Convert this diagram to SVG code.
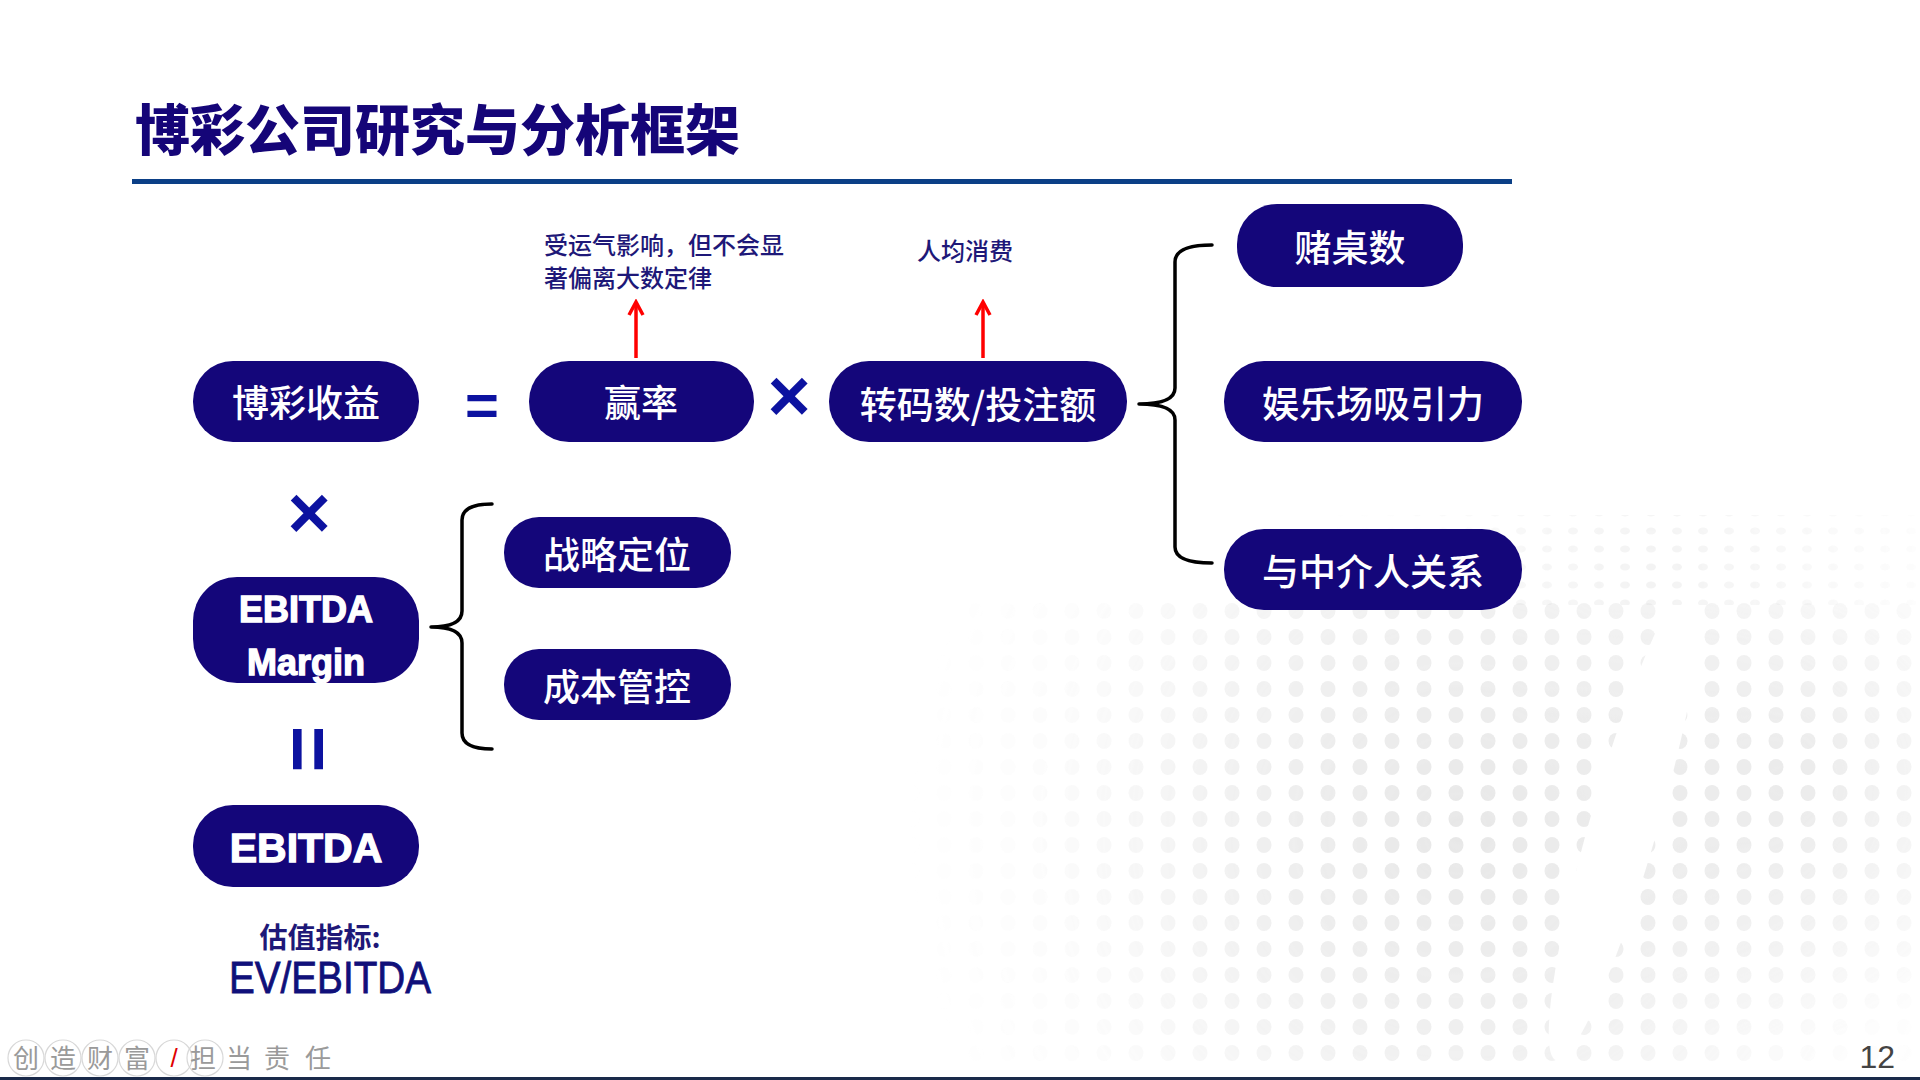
<svg xmlns="http://www.w3.org/2000/svg" width="1920" height="1080" viewBox="0 0 1920 1080">
<style>
.node rect{fill:#14067a;}
.nt{fill:#ffffff;font-family:"Noto Sans CJK SC","Liberation Sans",sans-serif;font-size:37px;font-weight:500;text-anchor:middle;dominant-baseline:central;}
.lt{fill:#ffffff;stroke:#ffffff;stroke-width:1.3px;font-family:"Liberation Sans",Arial,sans-serif;font-weight:bold;text-anchor:middle;dominant-baseline:central;}
.ann{fill:#1e1878;font-family:"Noto Sans CJK SC","Liberation Sans",sans-serif;font-size:24px;font-weight:500;}
.op{fill:#0c12a0;font-family:"Liberation Sans",Arial,sans-serif;font-weight:bold;text-anchor:middle;dominant-baseline:central;}
.brace{fill:none;stroke:#000;stroke-width:3.5;stroke-linecap:round;stroke-linejoin:round;}
.arrow{fill:none;stroke:#ff0000;stroke-width:3.5;}
.foot{fill:#9a9a9a;font-family:"Noto Sans CJK SC","Liberation Sans",sans-serif;font-size:26px;}
</style>
<defs>
<marker id="ah" viewBox="0 0 20 20" refX="17" refY="10" markerWidth="20" markerHeight="20" markerUnits="userSpaceOnUse" orient="auto">
<path d="M4,3 L17,10 L4,17" fill="none" stroke="#ff0000" stroke-width="3.5" stroke-linejoin="miter"/>
</marker>
<pattern id="dots" x="0" y="0" width="32" height="26" patternUnits="userSpaceOnUse">
<ellipse cx="16" cy="13" rx="7.5" ry="8" fill="#dcdcdc"/>
</pattern>
<pattern id="dotsS" x="0" y="0" width="26" height="18" patternUnits="userSpaceOnUse">
<ellipse cx="13" cy="9" rx="5" ry="3.5" fill="#dcdcdc"/>
</pattern>
<radialGradient id="g1" cx="1460" cy="830" r="560" gradientUnits="userSpaceOnUse">
<stop offset="0" stop-color="#fff" stop-opacity="0.95"/>
<stop offset="0.35" stop-color="#fff" stop-opacity="0.65"/>
<stop offset="0.75" stop-color="#fff" stop-opacity="0.12"/>
<stop offset="1" stop-color="#fff" stop-opacity="0"/>
</radialGradient>
<radialGradient id="g2" cx="1790" cy="780" r="260" gradientUnits="userSpaceOnUse">
<stop offset="0" stop-color="#fff" stop-opacity="0.75"/>
<stop offset="1" stop-color="#fff" stop-opacity="0"/>
</radialGradient>
<radialGradient id="g3" cx="1650" cy="580" r="330" gradientUnits="userSpaceOnUse">
<stop offset="0" stop-color="#fff" stop-opacity="0.5"/>
<stop offset="1" stop-color="#fff" stop-opacity="0"/>
</radialGradient>
<mask id="dm" maskUnits="userSpaceOnUse" x="0" y="0" width="1920" height="1080">
<rect x="0" y="600" width="1920" height="480" fill="url(#g1)"/>
<rect x="0" y="0" width="1920" height="1080" fill="url(#g2)"/>
<ellipse cx="1625" cy="820" rx="34" ry="250" transform="rotate(16 1625 820)" fill="#000"/>
</mask>
<mask id="dm2" maskUnits="userSpaceOnUse" x="0" y="0" width="1920" height="1080">
<rect x="0" y="0" width="1920" height="1080" fill="url(#g3)"/>
</mask>
</defs>
<rect x="0" y="0" width="1920" height="1080" fill="#ffffff"/>
<g id="background">
<rect x="880" y="600" width="1040" height="470" fill="url(#dots)" mask="url(#dm)" opacity="0.7"/>
<rect x="1140" y="515" width="780" height="90" fill="url(#dotsS)" mask="url(#dm2)" opacity="0.7"/>
</g>
<g id="title">
<text x="135" y="150" fill="#150578" font-family="'Noto Sans CJK SC','Liberation Sans',sans-serif" font-size="55" font-weight="900">博彩公司研究与分析框架</text>
<rect x="132" y="179" width="1380" height="5" fill="#0b3f86"/>
</g>
<g id="connectors">
<path class="brace" d="M1212,245 Q1175,245 1175,262 L1175,388 Q1175,404 1139,404 Q1175,404 1175,420 L1175,547 Q1175,563 1212,563"/>
<path class="brace" d="M492,504 Q462,504 462,520 L462,611 Q462,627 431,627 Q462,627 462,643 L462,733 Q462,749 492,749"/>
<line class="arrow" x1="636" y1="358" x2="636" y2="302" marker-end="url(#ah)"/>
<line class="arrow" x1="983" y1="358" x2="983" y2="302" marker-end="url(#ah)"/>
</g>
<g id="operators">
<text class="op" x="482" y="404" font-size="58">=</text>
<text class="op" x="789" y="395" font-size="74">×</text>
<text class="op" x="309" y="512" font-size="74">×</text>
<text class="op" x="309" y="749" font-size="80" transform="rotate(90 309 749)">=</text>
</g>
<g id="n-revenue" class="node">
<rect x="193" y="361" width="226" height="81" rx="40"/>
<text class="nt" x="306" y="401">博彩收益</text>
</g>
<g id="n-winrate" class="node">
<rect x="529" y="361" width="225" height="81" rx="40"/>
<text class="nt" x="641" y="401">赢率</text>
</g>
<g id="n-rolling" class="node">
<rect x="829" y="361" width="298" height="81" rx="40"/>
<text class="nt" x="978" y="403">转码数/投注额</text>
</g>
<g id="n-tables" class="node">
<rect x="1237" y="204" width="226" height="83" rx="40"/>
<text class="nt" x="1350" y="246">赌桌数</text>
</g>
<g id="n-attraction" class="node">
<rect x="1224" y="361" width="298" height="81" rx="40"/>
<text class="nt" x="1373" y="402">娱乐场吸引力</text>
</g>
<g id="n-agents" class="node">
<rect x="1224" y="529" width="298" height="81" rx="40"/>
<text class="nt" x="1373" y="570">与中介人关系</text>
</g>
<g id="n-margin" class="node">
<rect x="193" y="577" width="226" height="106" rx="44"/>
<text class="lt" x="306" y="609" font-size="36">EBITDA</text>
<text class="lt" x="306" y="662" font-size="36">Margin</text>
</g>
<g id="n-strategy" class="node">
<rect x="504" y="517" width="227" height="71" rx="35"/>
<text class="nt" x="617" y="553">战略定位</text>
</g>
<g id="n-cost" class="node">
<rect x="504" y="649" width="227" height="71" rx="35"/>
<text class="nt" x="617" y="685">成本管控</text>
</g>
<g id="n-ebitda" class="node">
<rect x="193" y="805" width="226" height="82" rx="40"/>
<text class="lt" x="306" y="848" font-size="41">EBITDA</text>
</g>
<g id="annotations">
<text class="ann" x="544" y="254">受运气影响，但不会显</text>
<text class="ann" x="544" y="287">著偏离大数定律</text>
<text class="ann" x="917" y="260">人均消费</text>
<text x="320" y="948" fill="#1e1878" font-family="'Noto Sans CJK SC','Liberation Serif',serif" font-size="28" font-weight="bold" text-anchor="middle">估值指标:</text>
<text x="330" y="993" fill="#10107a" stroke="#10107a" stroke-width="0.8" font-family="'Liberation Sans',Arial,sans-serif" font-size="44" text-anchor="middle" textLength="202" lengthAdjust="spacingAndGlyphs">EV/EBITDA</text>
</g>
<g id="footer">
<g fill="none" stroke="#d8d8d8" stroke-width="1.2">
<circle cx="26" cy="1058" r="18"/>
<circle cx="63" cy="1058" r="18"/>
<circle cx="100" cy="1058" r="18"/>
<circle cx="137" cy="1058" r="18"/>
<circle cx="174" cy="1058" r="18"/>
<circle cx="205" cy="1058" r="18"/>
</g>
<text class="foot" x="13" y="1068">创</text>
<text class="foot" x="50" y="1068">造</text>
<text class="foot" x="87" y="1068">财</text>
<text class="foot" x="124" y="1068">富</text>
<text x="174" y="1067" fill="#e00000" font-family="'Liberation Sans',sans-serif" font-size="26" text-anchor="middle">/</text>
<text class="foot" x="190" y="1068">担</text>
<text class="foot" x="226" y="1068">当</text>
<text class="foot" x="264" y="1068">责</text>
<text class="foot" x="305" y="1068">任</text>
<text x="1895" y="1068" fill="#444444" font-family="'Liberation Sans',Arial,sans-serif" font-size="32" text-anchor="end">12</text>
<rect x="0" y="1077" width="1920" height="3" fill="#1a2a4a"/>
</g>
</svg>
